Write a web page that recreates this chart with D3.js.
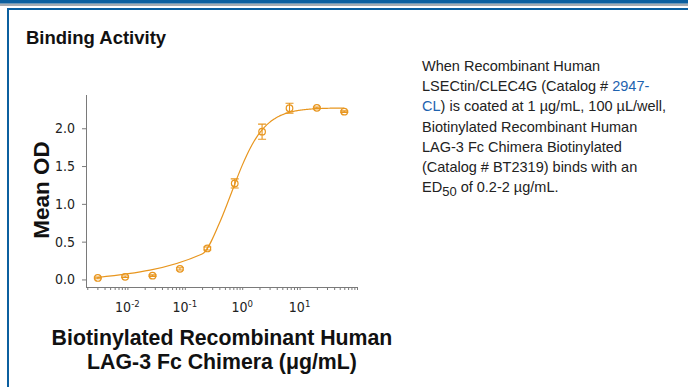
<!DOCTYPE html>
<html>
<head>
<meta charset="utf-8">
<script src="https://cdn.jsdelivr.net/npm/d3@7"></script>
<style>
  html, body { margin: 0; padding: 0; background: #fff; }
  svg { display: block; }
</style>
</head>
<body>
<svg id="chart" width="688" height="387"></svg>
<script>
// concentrations (ug/mL), 3-fold dilution
const conc = [0.00305, 0.00914, 0.0274, 0.0823, 0.247, 0.741, 2.22, 6.67, 20, 60];
const meanOD = [0.02, 0.035, 0.05, 0.14, 0.41, 1.27, 1.955, 2.265, 2.27, 2.22];
const errOD = [0.01, 0.01, 0.01, 0.015, 0.02, 0.06, 0.1, 0.065, 0.01, 0.01];
// 4PL fit: bottom, top, EC50, hill
const fit = [0.025, 2.27, 0.65, 1.55];
const yTicks = [0, 0.5, 1.0, 1.5, 2.0];
const xTickExp = [-2, -1, 0, 1];
const noteLines = [
  [{ t: 'When Recombinant Human' }],
  [{ t: 'LSECtin/CLEC4G (Catalog # ' }, { t: '2947-', link: true }],
  [{ t: 'CL', link: true }, { t: ') is coated at 1 µg/mL, 100 µL/well,' }],
  [{ t: 'Biotinylated Recombinant Human' }],
  [{ t: 'LAG-3 Fc Chimera Biotinylated' }],
  [{ t: '(Catalog # BT2319) binds with an' }],
  [{ t: 'ED' }, { t: '50', sub: true }, { t: ' of 0.2-2 µg/mL.' }]
];
const xTitle = ['Biotinylated Recombinant Human', 'LAG-3 Fc Chimera (μg/mL)'];

const orange = '#e8961f';
const axisColor = '#7a7a7a';
const condensed = '"Liberation Sans Narrow", "DejaVu Sans Condensed", sans-serif';

const svg = d3.select('#chart');

// page frame
svg.append('rect').attr('x', 0).attr('y', 0).attr('width', 688).attr('height', 3.7).attr('fill', '#0b5f9f');
svg.append('rect').attr('x', 0).attr('y', 3.7).attr('width', 688).attr('height', 2.3).attr('fill', '#a4abb2');
svg.append('rect').attr('x', 7).attr('y', 8).attr('width', 681).attr('height', 2).attr('fill', '#0b5f9f');
svg.append('rect').attr('x', 7).attr('y', 8).attr('width', 2).attr('height', 379).attr('fill', '#0b5f9f');

svg.append('text')
  .attr('x', 26).attr('y', 44)
  .style('font', 'bold 18.5px "Liberation Sans", Arial, sans-serif')
  .attr('fill', '#111')
  .text('Binding Activity');

const x = d3.scaleLog().domain([0.0019, 100]).range([86, 357]);
const y = d3.scaleLinear().domain([-0.1, 2.44]).range([287, 95]);

// axes
const xAxis = svg.append('g').attr('transform', 'translate(0,287)');
xAxis.call(d3.axisBottom(x).ticks(10).tickSize(3).tickFormat(''));
xAxis.select('.domain').attr('stroke', axisColor).attr('d', 'M86,0.5H357');
xAxis.selectAll('.tick line').attr('stroke', axisColor);

xAxis.selectAll('.xlab')
  .data(xTickExp)
  .enter()
    .append('text')
    .attr('class', 'xlab')
    .attr('x', d => x(Math.pow(10, d)))
    .attr('y', 25)
    .attr('text-anchor', 'middle')
    .attr('fill', '#222')
    .style('font-family', condensed)
    .style('font-size', '14px')
    .each(function (d) {
      const t = d3.select(this);
      t.append('tspan').text('10');
      t.append('tspan').attr('dy', -5).style('font-size', '9.5px').text(d);
    });

const yAxis = svg.append('g').attr('transform', 'translate(86,0)');
yAxis.call(d3.axisLeft(y).tickValues(yTicks).tickSize(4).tickPadding(7).tickFormat(d3.format('.1f')));
yAxis.select('.domain').attr('stroke', axisColor).attr('d', 'M0.5,95V287');
yAxis.selectAll('.tick line').attr('stroke', axisColor);
yAxis.selectAll('.tick text')
  .attr('fill', '#222')
  .style('font-family', condensed)
  .style('font-size', '14px');

svg.append('text')
  .attr('transform', 'translate(49,190) rotate(-90)')
  .attr('text-anchor', 'middle')
  .style('font', 'bold 22.5px "Liberation Sans", Arial, sans-serif')
  .attr('fill', '#111')
  .text('Mean OD');

svg.selectAll('.xtitle')
  .data(xTitle)
  .enter()
    .append('text')
    .attr('class', 'xtitle')
    .attr('x', 222)
    .attr('y', (_, i) => 345 + i * 24)
    .attr('text-anchor', 'middle')
    .style('font', 'bold 21.3px "Liberation Sans", Arial, sans-serif')
    .attr('fill', '#111')
    .text(d => d);

// fitted curve
const [fitBottom, fitTop, ec50, hill] = fit;
const logx = d3.scaleLog().domain([conc[0], conc[conc.length - 1]]);
const curvePts = logx.ticks(200).concat([conc[0], conc[conc.length - 1]])
  .sort((a, b) => a - b)
  .map(c => [c, fitBottom + (fitTop - fitBottom) / (1 + Math.pow(ec50 / c, hill))]);

svg.append('path')
  .datum(curvePts)
  .attr('fill', 'none')
  .attr('stroke', orange)
  .attr('stroke-width', 1.2)
  .attr('d', d3.line().x(d => x(d[0])).y(d => y(d[1])).curve(d3.curveMonotoneX));

const pts = conc.map((c, i) => ({ c, v: meanOD[i], e: errOD[i] }));

const $pt = svg.selectAll('.pt')
  .data(pts)
  .enter()
    .append('g')
    .attr('class', 'pt')
    .attr('transform', d => `translate(${x(d.c)},0)`);

$pt.append('path')
  .attr('fill', 'none')
  .attr('stroke', orange)
  .attr('stroke-width', 1.1)
  .attr('d', d => {
    const y0 = y(d.v - d.e), y1 = y(d.v + d.e);
    return `M0,${y0}V${y1}M-4,${y0}H4M-4,${y1}H4`;
  });

$pt.append('circle')
  .attr('cy', d => y(d.v))
  .attr('r', 3.3)
  .attr('fill', 'none')
  .attr('stroke', orange)
  .attr('stroke-width', 1.2);

// description note
const note = svg.append('text')
  .attr('fill', '#222')
  .style('font', '14.5px "Liberation Sans", Arial, sans-serif');

noteLines.forEach((line, i) => {
  line.forEach((seg, j) => {
    const ts = note.append('tspan').text(seg.t);
    if (j === 0) ts.attr('x', 422).attr('y', 71 + i * 20.2);
    if (seg.link) ts.attr('fill', '#1e63b0');
    if (seg.sub) ts.attr('dy', 4).style('font-size', '13px');
    else if (j > 0 && line[j - 1].sub) ts.attr('dy', -4);
  });
});
</script>
</body>
</html>
